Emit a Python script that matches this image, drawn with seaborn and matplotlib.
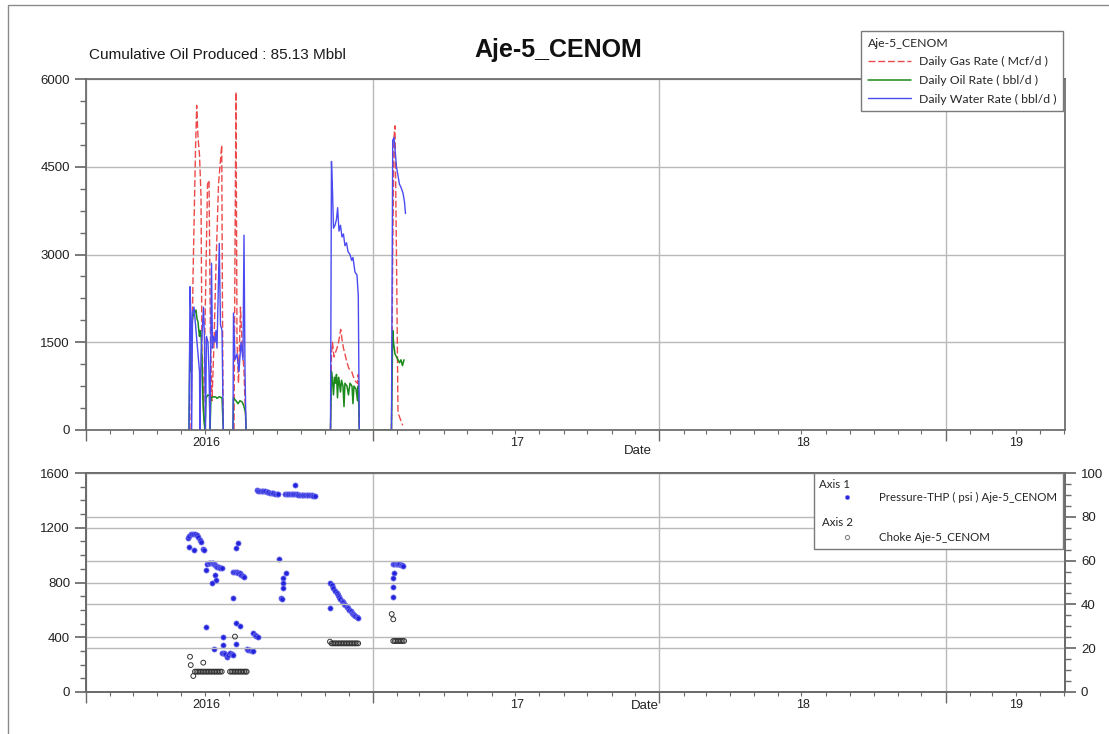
import numpy as np
import pandas as pd
import matplotlib
matplotlib.use("Agg")
import matplotlib.pyplot as plt
import matplotlib.dates as mdates
from matplotlib.lines import Line2D
from matplotlib.patches import Rectangle
from matplotlib.ticker import MultipleLocator, NullFormatter, FixedLocator
import seaborn as sns

nan = np.nan
START = pd.Timestamp("2016-01-01")

# ---------------- data (day = days since 2016-01-01) ----------------
# Daily gas rate (Mcf/d); NaN separates production runs
gas_days = [133.8, 136.4, 139.6, 141.1, 142.8, 144.7, 146.6, 147.9, 149.8, 151.7,
            154.9, 156.8, 158.7, 160.6, 163.2, 165.7, 168.9, 173.0, 174.0, 175.0, nan,
            188.7, 189.9, 191.2, 192.5, 194.4, 196.9, 198.9, 201.4, 204.0, nan,
            311.7, 312.9, 314.2, 316.1, 318.7, 321.2, 323.2, 324.7, 326.3, 328.2,
            330.1, 332.7, 335.2, 338.7, 341.6, 344.2, 346.1, 347.1, 348.4, nan,
            389.4, 391.0, 392.6, 393.9, 395.8, 397.7, 400.3, 403.7]
gas_rate = [0, 2600, 4800, 5550, 5000, 4700, 4000, 1200, 300, 1800,
            4200, 4270, 1500, 500, 1500, 2800, 4200, 4870, 2000, 0, nan,
            0, 3000, 5780, 1500, 800, 2100, 1500, 1000, 0, nan,
            0, 1300, 1500, 1250, 1350, 1450, 1600, 1720, 1550, 1400,
            1300, 1150, 1050, 1000, 880, 820, 800, 950, 0, nan,
            0, 3000, 5000, 5200, 3000, 300, 200, 80]

# Daily oil rate (bbl/d)
oil_days = [131.3, 132.6, 133.5, 134.7, 136.4, 138.0, 140.2, 141.5, 142.8, 143.4,
            144.7, 145.3, 146.6, 147.9, 149.1, 150.4, 151.7, 153.0, 155.5, 157.5,
            158.1, 159.3, 161.2, 163.2, 165.7, 167.0, 169.9, 171.4, 173.4, 175.0,
            187.4, 188.0, 189.9, 191.2, 193.8, 196.3, 198.9, 200.1, 201.4, 203.3,
            204.0, 311.7, 312.9, 314.2, 315.5, 316.8, 318.0, 319.3, 320.6, 321.9,
            323.1, 324.4, 325.7, 327.6, 328.9, 330.1, 332.7, 334.6, 336.5, 339.1,
            340.3, 341.6, 344.2, 346.1, 347.1, 348.4, 389.4, 391.0, 392.0, 393.9,
            395.8, 397.7, 399.6, 401.5, 403.4, 405.4]
oil_rate = [0, 1750, 1000, 1800, 1950, 2000, 2050, 1900, 1850, 1750,
            1600, 1700, 1650, 1200, 500, 150, 0, 550, 600, 580,
            0, 550, 560, 570, 560, 540, 570, 560, 550, 0,
            0, 550, 520, 500, 450, 500, 480, 450, 400, 300,
            0, 0, 1000, 850, 600, 900, 800, 950, 550, 900,
            800, 650, 850, 750, 400, 800, 750, 600, 800, 750,
            450, 750, 700, 500, 750, 0, 0, 1700, 1500, 1300,
            1250, 1200, 1150, 1200, 1100, 1200]

# Daily water rate (bbl/d); NaN separates production runs
water_days = [131.3, 132.6, 133.8, 134.7, 135.8, 137.7, 139.6, 141.5, 143.4, 144.7,
              145.3, 146.6, 149.8, 151.1, 152.3, 153.6, 155.5, 156.8, 158.1, 160.0,
              161.2, 162.5, 164.4, 165.7, 167.0, 169.9, 171.4, 173.4, 175.0, nan,
              187.4, 188.0, 189.9, 192.5, 195.0, 197.6, 200.1, 201.4, 202.7, 204.0, nan,
              311.7, 312.9, 314.2, 315.5, 317.4, 319.3, 320.8, 322.5, 324.4, 326.3,
              328.2, 330.1, 332.1, 334.0, 336.5, 338.7, 340.3, 342.9, 345.4, 347.1, 348.4, nan,
              389.4, 391.0, 392.6, 393.9, 395.8, 397.7, 399.6, 401.5, 404.1, 406.0, 407.3]
water_rate = [0, 2450, 1900, 0, 2000, 2100, 1800, 1500, 1200, 1000,
              0, 1300, 2100, 1500, 0, 1600, 1500, 1000, 0, 2850,
              1400, 1600, 1500, 1700, 1400, 3190, 1800, 1700, 0, nan,
              0, 2000, 1200, 1300, 1000, 1500, 1200, 3330, 1000, 0, nan,
              0, 4590, 4100, 3450, 3500, 3600, 3800, 3400, 3500, 3300,
              3350, 3150, 3200, 3050, 3000, 2900, 2950, 2700, 2650, 2300, 0, nan,
              0, 4950, 5000, 4800, 4500, 4350, 4200, 4150, 4050, 3900, 3700]

# Tubing head pressure (psi), axis 1
thp_days = [130.4, 131.7, 133.5, 136.0, 138.9, 141.1, 143.1, 145.3, 146.6, 131.7, 138.0, 148.8, 150.8,
            153.0, 154.6, 156.5, 158.1, 160.0, 161.5, 163.0, 164.4, 166.0, 167.4, 169.0, 170.8, 173.0, 164.4, 165.7, 160.2,
            153.0, 174.2, 163.5, 175.0, 173.0, 175.5, 177.0, 179.4, 181.5, 183.6, 185.7, 187.8,
            191.2, 194.1, 187.8, 190.0, 192.1, 194.2, 196.3, 198.0, 199.7, 201.8, 187.8, 191.2, 196.3, 191.2,
            204.8, 207.0, 209.0, 211.0, 213.3, 213.3, 215.0, 217.0, 219.6,
            217.6, 219.7, 221.8, 223.9, 226.0, 228.1, 230.3, 232.4, 234.5, 236.6, 238.8, 240.9, 243.1, 245.1,
            253.7, 255.8, 257.9, 260.0, 262.2, 264.3, 266.4, 268.5, 270.6, 272.8,
            275.0, 277.1, 279.2, 281.3, 283.4, 285.5, 287.7, 289.8, 291.9, 266.4,
            246.4, 254.9, 251.5, 250.7, 251.5, 248.2, 249.5,
            311.0, 313.2, 315.2, 317.4, 319.6, 321.2, 322.9, 324.4, 325.9, 327.6,
            329.3, 330.8, 332.3, 334.0, 335.6, 337.2, 338.7, 340.2, 341.6, 343.4, 345.1, 347.1, 311.0,
            391.7, 393.2, 394.8, 396.4, 398.1, 399.6, 401.2, 402.9, 404.5, 392.6, 391.7, 391.0, 391.0]
thp_psi = [1123, 1140, 1152, 1154, 1154, 1147, 1130, 1110, 1098, 1061, 1037, 1044, 1037,
           891, 935, 942, 945, 943, 940, 935, 928, 922, 915, 911, 908, 903, 852, 818, 798,
           477, 404, 314, 343, 285, 282, 278, 258, 270, 285, 278, 270,
           1054, 1090, 879, 878, 876, 872, 867, 858, 847, 838, 689, 506, 482, 348,
           314, 310, 306, 302, 300, 430, 420, 410, 404,
           1475, 1472, 1470, 1469, 1468, 1465, 1461, 1458, 1456, 1453, 1451, 1450, 1449, 1446,
           1444, 1445, 1446, 1445, 1444, 1445, 1446, 1443, 1441, 1441,
           1441, 1440, 1439, 1439, 1439, 1437, 1436, 1435, 1434, 1512,
           969, 867, 830, 794, 757, 689, 677,
           794, 782, 757, 740, 721, 706, 692, 680, 667, 655,
           643, 633, 623, 611, 599, 589, 579, 570, 562, 553, 545, 538, 611,
           933, 936, 938, 937, 935, 933, 930, 925, 920, 871, 830, 765, 696]

# Choke (axis 2)
choke_days = [132.6, 133.5, 136.8, 149.5,
              138.9, 140.9, 142.9, 144.9, 146.9, 148.9, 150.9, 152.9, 154.9, 156.9,
              158.9, 160.9, 162.9, 164.9, 166.9, 168.9, 170.9, 173.0,
              183.6, 185.6, 187.6, 189.6, 191.6, 193.6, 195.6, 197.6, 199.6, 201.6, 203.6, 204.8, 189.9,
              311.0, 313.0, 315.0, 317.0, 319.0, 321.0, 323.0, 325.0, 327.0, 329.0,
              331.0, 333.0, 335.0, 337.0, 339.0, 341.0, 343.0, 345.0, 347.0,
              389.7, 391.7, 391.7, 393.5, 395.5, 397.5, 399.5, 401.5, 403.5, 405.5]
choke_val = [16.1, 12.3, 7.3, 13.4,
             9.3, 9.3, 9.3, 9.3, 9.3, 9.3, 9.3, 9.3, 9.3, 9.3,
             9.3, 9.3, 9.3, 9.3, 9.3, 9.3, 9.3, 9.3,
             9.3, 9.3, 9.3, 9.3, 9.3, 9.3, 9.3, 9.3, 9.3, 9.3, 9.3, 9.3, 25.3,
             23.0, 22.2, 22.2, 22.2, 22.2, 22.2, 22.2, 22.2, 22.2, 22.2,
             22.2, 22.2, 22.2, 22.2, 22.2, 22.2, 22.2, 22.2, 22.2,
             35.6, 33.2, 23.3, 23.3, 23.3, 23.3, 23.3, 23.3, 23.3, 23.3]

year_label_dates = ["2016-06-03", "2017-07-03", "2018-07-03", "2019-04-01"]
year_labels = ["2016", "17", "18", "19"]

# ---------------- helpers ----------------
def to_frame(days, vals):
    d = pd.DataFrame({"day": days, "val": vals})
    d["run"] = d["val"].isna().cumsum()
    d = d.dropna().copy()
    d["date"] = START + pd.to_timedelta(d["day"], unit="D")
    return d

gas_df = to_frame(gas_days, gas_rate)
oil_df = to_frame(oil_days, oil_rate)
water_df = to_frame(water_days, water_rate)
thp_df = to_frame(thp_days, thp_psi)
choke_df = to_frame(choke_days, choke_val)

GAS_C = "#ec4a4a"
OIL_C = "#1b8a1b"
WATER_C = "#4a4af0"
THP_C = "#2323dc"
GRID_C = "#b9b9b9"
SPINE_C = "#6a6a6a"

sns.set_theme(style="ticks")
plt.rcParams["font.family"] = ["Liberation Sans", "DejaVu Sans"]
plt.rcParams["axes.edgecolor"] = SPINE_C
plt.rcParams["xtick.color"] = SPINE_C
plt.rcParams["ytick.color"] = SPINE_C
plt.rcParams["xtick.labelcolor"] = "#222222"
plt.rcParams["ytick.labelcolor"] = "#222222"

W, H = 1109, 734
fig = plt.figure(figsize=(W / 100, H / 100), dpi=100)
ax = fig.add_axes([86 / W, 1 - 430 / H, 979 / W, 351 / H])
axb = fig.add_axes([86 / W, 1 - 692 / H, 979 / W, 219 / H])

xmin, xmax = START, pd.Timestamp("2019-06-02")

# ---------------- top panel ----------------
sns.lineplot(data=gas_df, x="date", y="val", units="run", estimator=None, sort=False,
             color=GAS_C, lw=1.0, linestyle=(0, (5, 2)), ax=ax, legend=False)
sns.lineplot(data=oil_df, x="date", y="val", units="run", estimator=None, sort=False,
             color=OIL_C, lw=1.1, ax=ax, legend=False)
sns.lineplot(data=water_df, x="date", y="val", units="run", estimator=None, sort=False,
             color=WATER_C, lw=1.0, ax=ax, legend=False)

def style_time_axis(a, date_label_xy):
    a.set_xlim(xmin, xmax)
    a.xaxis.set_major_locator(mdates.YearLocator())
    a.xaxis.set_minor_locator(mdates.MonthLocator())
    a.xaxis.set_major_formatter(NullFormatter())
    a.tick_params(axis="x", which="major", length=8, width=1)
    a.tick_params(axis="x", which="minor", length=3, width=0.8)
    a.grid(axis="x", which="major", color=GRID_C, lw=1)
    a.grid(axis="y", which="major", color=GRID_C, lw=1)
    a.set_axisbelow(True)
    sec = a.secondary_xaxis("bottom")
    sec.xaxis.set_major_locator(FixedLocator(mdates.date2num(pd.to_datetime(year_label_dates))))
    sec.set_xticklabels(year_labels)
    sec.tick_params(length=0, pad=5, labelsize=9)
    sec.spines["bottom"].set_visible(False)
    a.set_xlabel("")
    a.set_ylabel("")
    a.text(date_label_xy[0], date_label_xy[1], "Date", transform=a.transAxes,
           ha="center", va="center", fontsize=9.5, color="#222222")

style_time_axis(ax, ((638 - 86) / 979, (430 - 451) / 351))
ax.set_ylim(0, 6000)
ax.yaxis.set_major_locator(MultipleLocator(1500))
ax.yaxis.set_minor_locator(MultipleLocator(375))
ax.tick_params(axis="y", which="major", length=8, labelsize=9.5)
ax.tick_params(axis="y", which="minor", length=4)

# ---------------- bottom panel ----------------
sns.scatterplot(data=thp_df, x="date", y="val", ax=axb, color=THP_C,
                edgecolor="#7a7af0", linewidth=0.5, s=14, legend=False, zorder=3)
style_time_axis(axb, ((645 - 86) / 979, (692 - 706) / 219))
axb.set_ylim(0, 1600)
axb.yaxis.set_major_locator(MultipleLocator(400))
axb.yaxis.set_minor_locator(MultipleLocator(100))
axb.tick_params(axis="y", which="major", length=8, labelsize=9.5)
axb.tick_params(axis="y", which="minor", length=4)

ax2 = axb.twinx()
sns.scatterplot(data=choke_df, x="date", y="val", ax=ax2, color="#333333",
                facecolor="none", edgecolor="#333333", linewidth=0.7, s=12,
                legend=False, zorder=3)
ax2.set_xlim(xmin, xmax)
ax2.set_ylim(0, 100)
ax2.set_ylabel("")
ax2.set_xlabel("")
ax2.yaxis.set_major_locator(MultipleLocator(20))
ax2.yaxis.set_minor_locator(MultipleLocator(5))
ax2.tick_params(axis="y", which="major", length=8, labelsize=9.5)
ax2.tick_params(axis="y", which="minor", length=4)
ax2.grid(axis="y", which="major", color=GRID_C, lw=1)
ax2.set_axisbelow(True)

# ---------------- legends ----------------
LEG1_FONT = {"family": "Lato", "size": 8.8}
top_handles = [Line2D([], [], color=GAS_C, lw=1.0, linestyle=(0, (5, 2))),
               Line2D([], [], color=OIL_C, lw=1.1),
               Line2D([], [], color=WATER_C, lw=1.0)]
top_labels = ["Daily Gas Rate ( Mcf/d )", "Daily Oil Rate ( bbl/d )", "Daily Water Rate ( bbl/d )"]
leg1 = fig.legend(top_handles, top_labels, loc="upper right",
                  bbox_to_anchor=(1063 / W, 1 - 31 / H), bbox_transform=fig.transFigure,
                  title="Aje-5_CENOM", alignment="left", prop=LEG1_FONT,
                  title_fontproperties=LEG1_FONT, frameon=True, fancybox=False,
                  framealpha=1, edgecolor="#7a7a7a", borderaxespad=0,
                  handlelength=3.5, handletextpad=0.65, labelspacing=0.62, borderpad=0.55)
leg1.get_frame().set_linewidth(1.0)

LEG2_FONT = {"family": "Lato", "size": 8.3}
blank = Line2D([], [], ls="", marker="")
bot_handles = [Line2D([], [], ls="", marker="o", ms=3, color=THP_C, mec="#7a7af0", mew=0.5),
               blank, blank,
               Line2D([], [], ls="", marker="o", ms=3, color="#888888", mfc="none", mew=0.8)]
bot_labels = ["Pressure-THP ( psi ) Aje-5_CENOM", "", "", "Choke Aje-5_CENOM"]
leg2 = ax2.legend(bot_handles, bot_labels, loc="upper right",
                  bbox_to_anchor=((1063 - 86) / 979, 1.0), borderaxespad=0,
                  title="Axis 1", alignment="left", prop=LEG2_FONT,
                  title_fontproperties=LEG2_FONT, frameon=True, fancybox=False,
                  framealpha=1, edgecolor="#7a7a7a",
                  handlelength=4.85, handletextpad=0.35, labelspacing=0.2, borderpad=0.5)
leg2.get_frame().set_linewidth(1.0)
ax2.text((822 - 86) / 979, (692 - 522) / 219, "Axis 2", transform=ax2.transAxes,
         ha="left", va="center", fontfamily="Lato", fontsize=8.3, color="#222222", zorder=10)

# ---------------- titles ----------------
fig.text(89 / W, 1 - 55 / H, "Cumulative Oil Produced : 85.13 Mbbl", fontsize=11,
         ha="left", va="center", color="#1a1a1a")
fig.text(558 / W, 1 - 50 / H, "Aje-5_CENOM", fontsize=18, fontweight="bold",
         ha="center", va="center", color="#111111")

# outer frame (left and top edges visible)
fig.add_artist(Rectangle((8 / W, -0.05), 1.2, 1.05 - 5 / H, transform=fig.transFigure,
                         fill=False, ec="#8a8a8a", lw=1))

fig.savefig("out.png", dpi=100)
